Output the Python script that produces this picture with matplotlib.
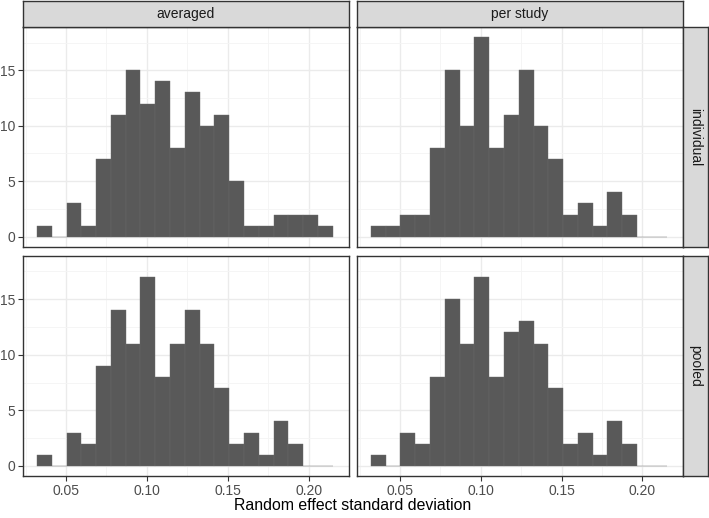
import numpy as np
import matplotlib.pyplot as plt

plt.rcParams['font.family'] = ['Liberation Sans', 'DejaVu Sans']

# histogram: 20 bins, shared across panels
bin_start = 0.0320
bin_width = 0.00915
n_bins = 20

col_labels = ['averaged', 'per study']
row_labels = ['individual', 'pooled']

averaged_individual = [1, 0, 3, 1, 7, 11, 15, 12, 14, 8, 13, 10, 11, 5, 1, 1, 2, 2, 2, 1]
per_study_individual = [1, 1, 2, 2, 8, 15, 10, 18, 8, 11, 15, 10, 7, 2, 3, 1, 4, 2, 0, 0]
averaged_pooled = [1, 0, 3, 2, 9, 14, 11, 17, 8, 11, 14, 11, 7, 2, 3, 1, 4, 2, 0, 0]
per_study_pooled = [1, 0, 3, 2, 8, 15, 11, 17, 8, 12, 13, 11, 7, 2, 3, 1, 4, 2, 0, 0]

counts = {
    ('individual', 'averaged'): averaged_individual,
    ('individual', 'per study'): per_study_individual,
    ('pooled', 'averaged'): averaged_pooled,
    ('pooled', 'per study'): per_study_pooled,
}

x_ticks = [0.05, 0.10, 0.15, 0.20]
x_tick_labels = ['0.05', '0.10', '0.15', '0.20']
y_ticks = [0, 5, 10, 15]

edges = bin_start + bin_width * np.arange(n_bins)

W, H = 709, 518
fig = plt.figure(figsize=(W / 100, H / 100), dpi=100)

def fx(px):
    return px / W

def fy(py):
    return 1 - py / H

col_x = [(22.7, 349.0), (356.7, 682.7)]
row_y = [(27.0, 246.7), (255.7, 476.0)]

border = '#333333'
for r, row in enumerate(row_labels):
    for c, col in enumerate(col_labels):
        x0, x1 = col_x[c]
        y0, y1 = row_y[r]
        ax = fig.add_axes([fx(x0), fy(y1), fx(x1) - fx(x0), fy(y0) - fy(y1)])
        ax.bar(edges, counts[(row, col)], width=bin_width, align='edge',
               color='#595959', edgecolor='#6a6a6a', linewidth=0.3, zorder=3)
        ax.set_xlim(0.0232, 0.2249)
        ax.set_ylim(-0.9, 18.9)
        ax.set_xticks(x_ticks)
        ax.set_xticks([0.025, 0.075, 0.125, 0.175, 0.225], minor=True)
        ax.set_yticks(y_ticks)
        ax.set_yticks([2.5, 7.5, 12.5, 17.5], minor=True)
        ax.grid(which='major', color='#EBEBEB', linewidth=1.0, zorder=0)
        ax.grid(which='minor', color='#F4F4F4', linewidth=0.6, zorder=0)
        ax.set_axisbelow(True)
        for s in ax.spines.values():
            s.set_color(border)
            s.set_linewidth(1.0)
        ax.tick_params(which='minor', length=0)
        ax.tick_params(which='major', length=3.5, width=0.8, color=border,
                       labelsize=10, labelcolor='#4D4D4D', pad=2)
        if r == 1:
            ax.set_xticklabels(x_tick_labels)
        else:
            ax.tick_params(axis='x', length=0, labelbottom=False)
        if c == 0:
            ax.set_yticklabels([str(v) for v in y_ticks])
        else:
            ax.tick_params(axis='y', length=0, labelleft=False)

        # column strip
        if r == 0:
            sax = fig.add_axes([fx(x0), fy(27.0), fx(x1) - fx(x0), fy(0.8) - fy(27.0)])
            sax.set_facecolor('#D9D9D9')
            sax.set_xticks([])
            sax.set_yticks([])
            for s in sax.spines.values():
                s.set_color(border)
                s.set_linewidth(1.0)
            sax.text(0.5, 0.5, col, ha='center', va='center', fontsize=10,
                     color='#1A1A1A', transform=sax.transAxes)
        # row strip
        if c == 1:
            sax = fig.add_axes([fx(682.7), fy(y1), fx(708.2) - fx(682.7), fy(y0) - fy(y1)])
            sax.set_facecolor('#D9D9D9')
            sax.set_xticks([])
            sax.set_yticks([])
            for s in sax.spines.values():
                s.set_color(border)
                s.set_linewidth(1.0)
            sax.text(0.5, 0.5, row, ha='center', va='center', fontsize=10,
                     rotation=-90, color='#1A1A1A', transform=sax.transAxes)

fig.text(fx(352.7), fy(505), 'Random effect standard deviation', ha='center',
         va='center', fontsize=11.4, color='black')

fig.savefig('out.png', dpi=100)
